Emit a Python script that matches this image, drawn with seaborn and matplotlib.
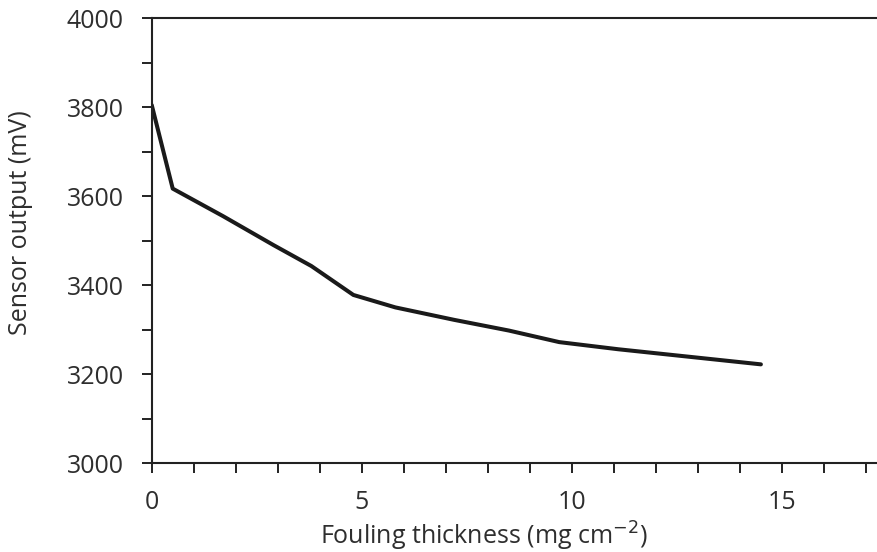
import matplotlib
matplotlib.use("Agg")
import matplotlib.pyplot as plt
import seaborn as sns
import pandas as pd
from matplotlib.ticker import MultipleLocator

# Sensorväljund sõltuvalt saastekihi paksusest
paksus = [0, 0.5, 1.7, 2.9, 3.8, 4.8, 5.8, 7.2, 8.5, 9.7, 11.1, 12.7, 14.5]
valjund = [3805, 3617, 3555, 3490, 3443, 3378, 3350, 3322, 3298, 3272, 3256, 3240, 3222]

andmed = pd.DataFrame({"paksus": paksus, "valjund": valjund})

sns.set_style("ticks")
plt.rcParams["font.family"] = ["Open Sans", "DejaVu Sans"]

fig = plt.figure(figsize=(8.77, 5.52), dpi=100)
ax = fig.add_axes([0.173, 0.161, 0.835, 0.806])

sns.lineplot(data=andmed, x="paksus", y="valjund", color="#1a1a1a", linewidth=2.9, ax=ax)

ax.set_xlim(0, 17.43)
ax.set_ylim(3000, 4000)
ax.xaxis.set_major_locator(MultipleLocator(5))
ax.xaxis.set_minor_locator(MultipleLocator(1))
ax.yaxis.set_major_locator(MultipleLocator(200))
ax.yaxis.set_minor_locator(MultipleLocator(100))

ax.spines["right"].set_visible(False)
for s in ["left", "bottom", "top"]:
    ax.spines[s].set_linewidth(1.5)
    ax.spines[s].set_color("#222222")

ax.tick_params(which="both", direction="out", length=7, width=1.4, color="#222222",
               labelsize=18, labelcolor="#2e2e2e")
ax.tick_params(axis="y", which="major", pad=13)
ax.tick_params(axis="x", which="major", pad=12)

ax.set_xlabel("Fouling thickness (mg cm$^{-2}$)", fontsize=18, color="#2e2e2e")
ax.set_ylabel("Sensor output (mV)", fontsize=18, color="#2e2e2e")
ax.xaxis.set_label_coords(0.454, -0.127)
ax.yaxis.set_label_coords(-0.162, 0.54)

fig.savefig("out.png", dpi=100)
